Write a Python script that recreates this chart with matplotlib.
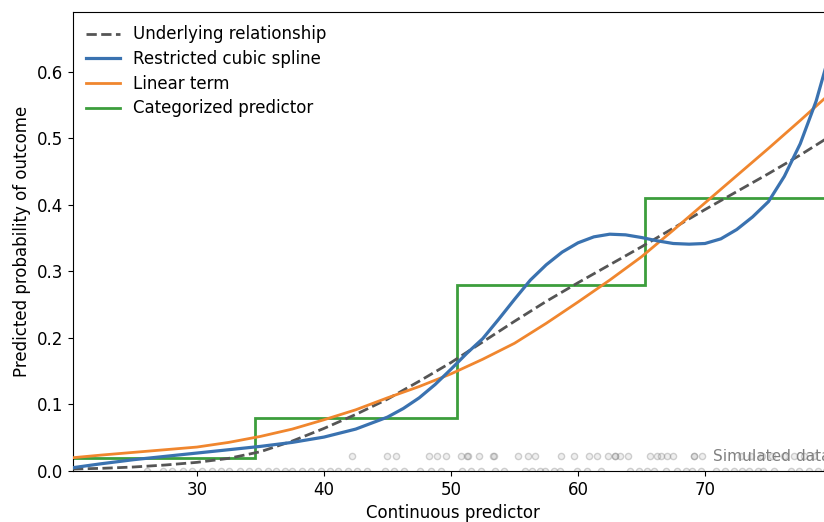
import matplotlib
matplotlib.use("Agg")
import matplotlib.pyplot as plt
import numpy as np

# ---- data ----
x_true = [20.24, 22.5, 25, 27.5, 30, 32.5, 35, 37.5, 40, 42.5, 45, 47.5, 50,
          52.5, 55, 57.5, 60, 62.5, 65, 67.5, 70, 72.5, 75, 77.5, 80]
y_true = [0.003, 0.004, 0.006, 0.009, 0.013, 0.019, 0.029, 0.045, 0.064, 0.085,
          0.108, 0.135, 0.163, 0.194, 0.225, 0.255, 0.283, 0.310, 0.337, 0.365,
          0.393, 0.420, 0.447, 0.475, 0.505]

x_rcs = [20.24, 22.5, 25, 27.5, 30, 32.5, 35, 37.5, 40, 42.5, 45, 46.25, 47.5,
         48.75, 50, 51.25, 52.5, 53.75, 55, 56.25, 57.5, 58.75, 60, 61.25, 62.5,
         63.75, 65, 66.25, 67.5, 68.75, 70, 71.25, 72.5, 73.75, 75, 76.25, 77.5,
         78.75, 80]
y_rcs = [0.005, 0.011, 0.017, 0.022, 0.027, 0.032, 0.037, 0.043, 0.051, 0.063,
         0.081, 0.094, 0.110, 0.130, 0.153, 0.177, 0.199, 0.228, 0.258, 0.287,
         0.310, 0.329, 0.343, 0.352, 0.356, 0.355, 0.351, 0.346, 0.342, 0.341,
         0.342, 0.349, 0.363, 0.382, 0.405, 0.443, 0.492, 0.556, 0.640]

x_lin = [20.24, 22.5, 25, 27.5, 30, 32.5, 35, 37.5, 40, 42.5, 45, 47.5, 50,
         52.5, 55, 57.5, 60, 62.5, 65, 67.5, 70, 72.5, 75, 77.5, 80]
y_lin = [0.020, 0.024, 0.028, 0.032, 0.036, 0.043, 0.052, 0.063, 0.077, 0.092,
         0.110, 0.127, 0.146, 0.168, 0.192, 0.222, 0.254, 0.287, 0.322, 0.362,
         0.403, 0.444, 0.485, 0.527, 0.570]

cat_edges = [20.24, 34.57, 50.47, 65.28, 80]
cat_values = [0.02, 0.08, 0.28, 0.41]

data_x_event = [42.2, 45.0, 45.7, 48.3, 48.9, 49.6, 50.8, 51.3, 51.35, 52.2,
                53.3, 53.35, 55.3, 56.1, 56.6, 58.7, 59.7, 60.9, 61.5, 62.4,
                62.9, 62.95, 63.3, 63.9, 65.7, 66.2, 66.5, 67.0, 67.5, 69.1,
                69.15, 69.8, 72.8, 73.6, 74.5, 75.3, 76.2, 77.0, 77.8, 78.6]
data_x_noevent = [26.1, 27.3, 28.0, 28.9, 29.6, 30.4, 31.2, 31.9, 32.5, 33.4,
                  34.1, 34.8, 35.6, 36.2, 36.9, 37.5, 38.3, 39.0, 39.8, 40.5,
                  41.1, 41.9, 42.6, 43.4, 44.8, 45.5, 46.3, 47.6, 48.4, 49.2,
                  50.9, 51.6, 52.4, 53.5, 54.2, 55.8, 56.4, 57.0, 57.4, 58.1,
                  58.6, 59.9, 60.7, 61.8, 64.1, 64.8, 65.4, 66.0, 66.9, 67.8,
                  68.5, 69.0, 69.7, 70.9, 71.6, 72.3, 72.9, 73.5, 74.2, 74.6,
                  75.4, 76.8, 77.4, 78.2, 78.9, 79.5]
event_y = 0.022

# ---- figure ----
plt.rcParams['font.family'] = ['DejaVu Sans']
plt.rcParams['font.size'] = 12

fig = plt.figure(figsize=(8.24, 5.22), dpi=100)
ax = fig.add_axes([0.0886, 0.0977, 0.9211, 0.8793])

dot_face = (0.5, 0.5, 0.5, 0.12)
dot_edge = (0.5, 0.5, 0.5, 0.35)
ax.scatter(data_x_event, [event_y] * len(data_x_event), s=20,
           facecolors=dot_face, edgecolors=dot_edge, linewidths=1, zorder=1)
ax.scatter(data_x_noevent, [0.0] * len(data_x_noevent), s=20,
           facecolors=dot_face, edgecolors=dot_edge, linewidths=1, zorder=1)

ax.plot(x_true, y_true, linestyle='--', color='#555555', lw=2,
        label='Underlying relationship', zorder=3)
ax.plot(x_rcs, y_rcs, color='#3a72b0', lw=2.3,
        label='Restricted cubic spline', zorder=4)
ax.plot(x_lin, y_lin, color='#f0862e', lw=2,
        label='Linear term', zorder=3)
ax.stairs(cat_values, cat_edges, color='#3c9e3c', lw=2, baseline=None,
          label='Categorized predictor', zorder=2)

ax.text(70.6, 0.015, 'Simulated data', color='#808080', fontsize=11.05,
        va='baseline', ha='left')

ax.set_xlim(20.24, 80)
ax.set_ylim(0, 0.69)
ax.set_xticks([30, 40, 50, 60, 70])
ax.set_yticks([0.0, 0.1, 0.2, 0.3, 0.4, 0.5, 0.6])
ax.set_xlabel('Continuous predictor')
ax.set_ylabel('Predicted probability of outcome')
ax.legend(loc='upper left', frameon=False, labelspacing=0.4,
          borderaxespad=0.4)

fig.savefig('out.png', dpi=100)
